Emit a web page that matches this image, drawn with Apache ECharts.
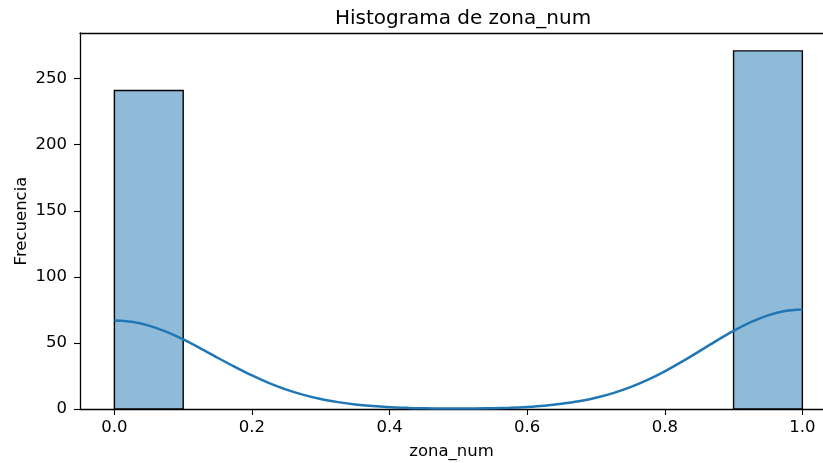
<!DOCTYPE html>
<html>
<head>
<meta charset="utf-8">
<script src="https://cdn.jsdelivr.net/npm/echarts@6/dist/echarts.min.js"></script>
<style>
  html, body { margin: 0; padding: 0; background: #fff; }
  #chart { width: 823px; height: 463px; }
</style>
</head>
<body>
<div id="chart"></div>
<script>
// Histogram bins of zona_num (bin edges and counts)
const binStarts = [0.0, 0.1, 0.2, 0.3, 0.4, 0.5, 0.6, 0.7, 0.8, 0.9];
const binEnds   = [0.1, 0.2, 0.3, 0.4, 0.5, 0.6, 0.7, 0.8, 0.9, 1.0];
const counts    = [241, 0, 0, 0, 0, 0, 0, 0, 0, 271];

// Density curve, scaled to counts
const kdeX = [0.0, 0.025, 0.05, 0.075, 0.1, 0.125, 0.15, 0.175, 0.2, 0.225,
              0.25, 0.275, 0.3, 0.325, 0.35, 0.375, 0.4, 0.425, 0.45, 0.475,
              0.5, 0.525, 0.55, 0.575, 0.6, 0.625, 0.65, 0.675, 0.7, 0.725,
              0.75, 0.775, 0.8, 0.825, 0.85, 0.875, 0.9, 0.925, 0.95, 0.975, 1.0];
const kdeY = [67.0, 66.0, 63.1, 58.5, 52.6, 45.9, 38.8, 31.9, 25.4, 19.6,
              14.7, 10.7, 7.5, 5.2, 3.4, 2.2, 1.4, 0.9, 0.5, 0.4,
              0.3, 0.4, 0.6, 1.0, 1.6, 2.5, 3.9, 5.8, 8.5, 12.0,
              16.5, 22.0, 28.5, 35.8, 43.6, 51.6, 59.1, 65.7, 70.9, 74.2, 75.3];

// Tick labels
const xTicks = [0.0, 0.2, 0.4, 0.6, 0.8, 1.0];
const yTicks = [0, 50, 100, 150, 200, 250];

const font = 'DejaVu Sans';
const histData = binStarts.map((s, i) => [s, binEnds[i], counts[i]]);
const kdeData = kdeX.map((x, i) => [x, kdeY[i]]);

const chart = echarts.init(document.getElementById('chart'));
chart.setOption({
  animation: false,
  backgroundColor: '#ffffff',
  title: {
    text: 'Histograma de zona_num',
    left: 458,
    top: 4,
    textAlign: 'center',
    textStyle: { fontFamily: font, fontSize: 20, fontWeight: 'normal', color: '#000' }
  },
  grid: { left: 80, top: 33, width: 743, height: 376, outerBoundsMode: 'none', containLabel: false },
  xAxis: [
    {
      type: 'value',
      min: -0.05, max: 1.03,
      name: 'zona_num',
      nameLocation: 'middle',
      nameGap: 34,
      nameMoveOverlap: false,
      nameTextStyle: { fontFamily: font, fontSize: 16.5, color: '#000' },
      splitLine: { show: false },
      axisLine: { show: true, onZero: false, lineStyle: { color: '#000', width: 1.3 } },
      axisTick: { show: true, length: 6, customValues: xTicks, lineStyle: { color: '#000', width: 1.1 } },
      axisLabel: {
        customValues: xTicks, margin: 10,
        fontFamily: font, fontSize: 16.5, color: '#000',
        formatter: v => v.toFixed(1)
      }
    },
    {
      // top frame line
      type: 'value',
      position: 'top',
      min: -0.05, max: 1.03,
      splitLine: { show: false },
      axisLine: { show: true, onZero: false, lineStyle: { color: '#000', width: 1.3 } },
      axisTick: { show: false },
      axisLabel: { show: false }
    }
  ],
  yAxis: {
    type: 'value',
    min: 0, max: 284.55,
    name: 'Frecuencia',
    nameLocation: 'middle',
    nameGap: 50,
    nameMoveOverlap: false,
    nameTextStyle: { fontFamily: font, fontSize: 16.5, color: '#000' },
    splitLine: { show: false },
    axisLine: { show: true, onZero: false, lineStyle: { color: '#000', width: 1.3 } },
    axisTick: { show: true, length: 6, customValues: yTicks, lineStyle: { color: '#000', width: 1.1 } },
    axisLabel: {
      customValues: yTicks, margin: 13,
      fontFamily: font, fontSize: 16.5, color: '#000'
    }
  },
  series: [
    {
      type: 'custom',
      data: histData,
      encode: { x: [0, 1], y: 2 },
      renderItem: function (params, api) {
        const h = api.value(2);
        if (!h) return null;
        const p0 = api.coord([api.value(0), 0]);
        const p1 = api.coord([api.value(1), h]);
        return {
          type: 'rect',
          shape: { x: p0[0], y: p1[1], width: p1[0] - p0[0], height: p0[1] - p1[1] },
          style: { fill: '#8fbbd9', stroke: '#000', lineWidth: 1.4 }
        };
      },
      z: 2
    },
    {
      type: 'line',
      data: kdeData,
      smooth: 0.3,
      showSymbol: false,
      lineStyle: { color: '#1f77b4', width: 2.5 },
      z: 3
    }
  ]
});
</script>
</body>
</html>
